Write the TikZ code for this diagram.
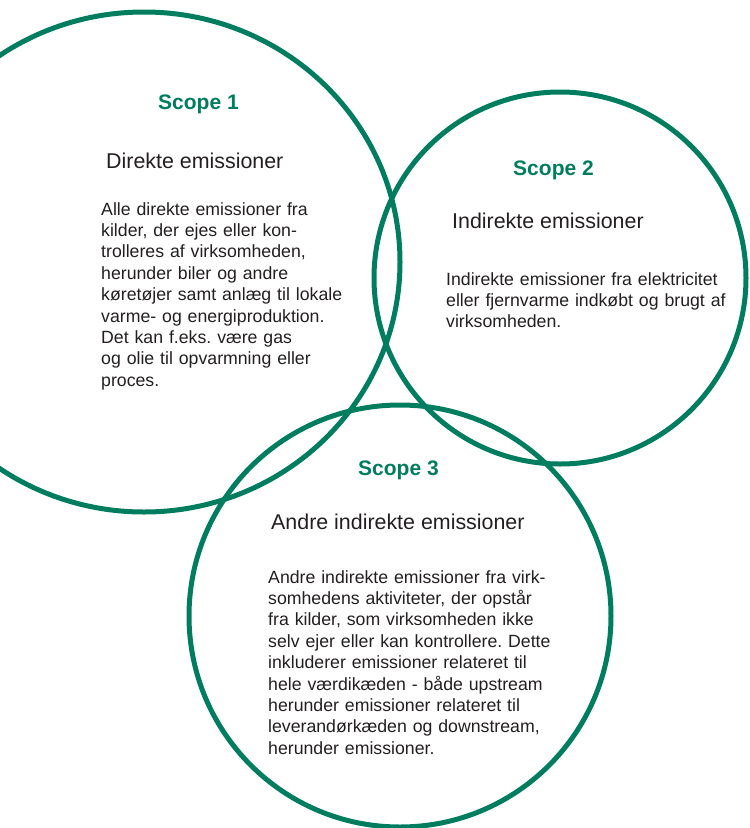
\documentclass[tikz,border=0pt]{standalone}
\usepackage{fontspec}
\setmainfont{Liberation Sans}
\frenchspacing
\definecolor{scopegreen}{RGB}{0,125,95}
\definecolor{bodygray}{RGB}{35,31,32}

\begin{document}
\begin{tikzpicture}[x=1pt,y=-1pt,
    ring/.style={draw=scopegreen,line width=5pt},
    scopetitle/.style={anchor=base,inner sep=0pt,text=scopegreen,font=\fontsize{21}{25}\selectfont\bfseries},
    subtitle/.style={anchor=base west,inner sep=0pt,text=bodygray,font=\fontsize{21.4}{25}\selectfont},
    bodytext/.style={anchor=base west,inner sep=0pt,text=bodygray,text width=330pt,align=left,font=\fontsize{17.7}{21.4}\selectfont}]
    \useasboundingbox (0,0) rectangle (750,828);
    \draw[ring] (144,262) ellipse [x radius=256pt,y radius=250pt];
    \draw[ring] (560,278) circle [radius=186pt];
    \draw[ring] (400,616) circle [radius=211pt];
    \node[scopetitle] (scopeone) at (198.5,109) {Scope 1};
    \node[subtitle] (subone) at (106,168) {Direkte emissioner};
    \node[bodytext] (bodyone) at (101,215) {Alle direkte emissioner fra\\
      kilder, der ejes eller kon-\\
      trolleres af virksomheden,\\
      herunder biler og andre\\
      køretøjer samt anlæg til lokale\\
      varme- og energiproduktion.\\
      Det kan f.eks. være gas\\
      og olie til opvarmning eller\\
      proces.};
    \node[scopetitle] (scopetwo) at (553.5,175) {Scope 2};
    \node[subtitle] (subtwo) at (452,228) {Indirekte emissioner};
    \node[bodytext] (bodytwo) at (446,285) {Indirekte emissioner fra elektricitet\\
      eller fjernvarme indkøbt og brugt af\\
      virksomheden.};
    \node[scopetitle] (scopethree) at (398.5,475) {Scope 3};
    \node[subtitle] (subthree) at (271,529) {Andre indirekte emissioner};
    \node[bodytext] (bodythree) at (268,583) {Andre indirekte emissioner fra virk-\\
      somhedens aktiviteter, der opstår\\
      fra kilder, som virksomheden ikke\\
      selv ejer eller kan kontrollere. Dette\\
      inkluderer emissioner relateret til\\
      hele værdikæden - både upstream\\
      herunder emissioner relateret til\\
      leverandørkæden og downstream,\\
      herunder emissioner.};
\end{tikzpicture}
\end{document}
